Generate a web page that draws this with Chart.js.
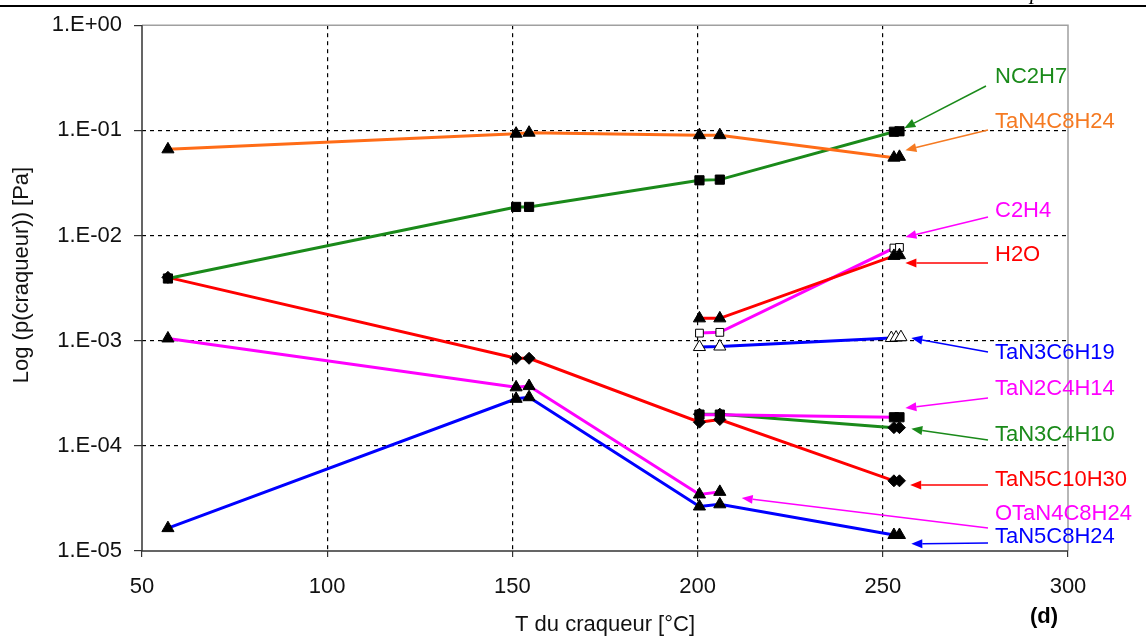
<!DOCTYPE html>
<html><head><meta charset="utf-8">
<script src="https://cdn.jsdelivr.net/npm/chart.js@4/dist/chart.umd.min.js"></script>
<style>html,body{margin:0;padding:0;background:#fff}#wrap{width:1146px;height:637px;position:relative}</style>
</head><body><div id="wrap"><canvas id="c" width="1146" height="637"></canvas></div>
<script>
// ---- data ----
const xTicks = [50, 100, 150, 200, 250, 300];
const yTicks = [1e-5, 1e-4, 1e-3, 1e-2, 1e-1, 1];
const T_full = [57, 151, 154.5, 200.5, 206, 253, 254.5];
const T_late = [200.5, 206, 253, 254.5];
const T_late3 = [200.5, 206, 252.3, 253.6, 254.9];
const T_otan = [57, 151, 154.5, 200.5, 206];

const NC2H7      = [0.0039, 0.0187, 0.0187, 0.0335, 0.034, 0.097, 0.098];
const TaN4C8H24  = [0.066, 0.093, 0.095, 0.090, 0.090, 0.055, 0.056];
const C2H4       = [0.00118, 0.0012, 0.0076, 0.0077];
const H2O        = [0.00163, 0.00163, 0.0064, 0.0065];
const TaN3C6H19  = [0.00087, 0.00088, 0.00106, 0.00107, 0.00108];
const TaN2C4H14  = [0.000198, 0.000198, 0.000187, 0.000187];
const TaN3C4H10  = [0.0002, 0.0002, 0.000149, 0.000149];
const TaN5C10H30 = [0.0040, 0.00068, 0.00068, 0.000168, 0.000178, 0.0000465, 0.0000465];
const OTaN4C8H24 = [0.00105, 0.00036, 0.00037, 0.0000345, 0.0000365];
const TaN5C8H24  = [0.0000165, 0.00028, 0.00029, 0.0000265, 0.0000278, 0.0000142, 0.0000142];

const labelNames = ['NC2H7','TaN4C8H24','C2H4','H2O','TaN3C6H19','TaN2C4H14','TaN3C4H10','TaN5C10H30','OTaN4C8H24','TaN5C8H24'];
const xTitle = 'T du craqueur [°C]';
const yTitle = 'Log (p(craqueur)) [Pa]';
const panelTag = '(d)';

const GREEN='#1a8a1a', ORANGE='#ff6c17', MAG='#ff00ff', RED='#ff0000', BLUE='#0000ff';

function pts(xs, ys){ return xs.map((x,i)=>({x:x, y:ys[i]})); }
function ds(xs, ys, color, style, open, r){
  return {data: pts(xs, ys), borderColor: color, borderWidth: 3, showLine: true, tension: 0,
    pointStyle: style, pointRadius: r, pointBackgroundColor: open ? '#ffffff' : '#000000',
    pointBorderColor: '#000000', pointBorderWidth: 1};
}

const datasets = [
  ds(T_full, TaN4C8H24, ORANGE, 'triangle', false, 7),
  ds(T_full, NC2H7, GREEN, 'rect', false, 6.5),
  ds(T_late, H2O, RED, 'triangle', false, 7),
  ds(T_late, C2H4, MAG, 'rect', true, 5.5),
  ds(T_late3, TaN3C6H19, BLUE, 'triangle', true, 7),
  ds(T_late, TaN2C4H14, MAG, 'rect', false, 6.5),
  ds(T_late, TaN3C4H10, GREEN, 'rectRot', false, 6),
  ds(T_full, TaN5C10H30, RED, 'rectRot', false, 6),
  ds(T_otan, OTaN4C8H24, MAG, 'triangle', false, 7),
  ds(T_full, TaN5C8H24, BLUE, 'triangle', false, 7)
];

// callout layout: text position (pixels) and arrow tip in data units
const callouts = [
  {c: GREEN,  ty: 77,  sx: 986, sy: 86,  tx: 255.8, tv: 0.105},
  {c: '#f57a22', ty: 122, sx: 988, sy: 130, tx: 256.1, tv: 0.0648},
  {c: MAG,    ty: 211, sx: 988, sy: 217, tx: 256.1, tv: 0.00966},
  {c: RED,    ty: 255, sx: 988, sy: 263, tx: 256.1, tv: 0.00547},
  {c: BLUE,   ty: 353, sx: 988, sy: 352, tx: 257.7, tv: 0.00106},
  {c: MAG,    ty: 389, sx: 988, sy: 398, tx: 256.1, tv: 0.000229},
  {c: GREEN,  ty: 435, sx: 988, sy: 440, tx: 257.7, tv: 0.000145},
  {c: RED,    ty: 480, sx: 988, sy: 485, tx: 257.4, tv: 0.0000424},
  {c: MAG,    ty: 514, sx: 988, sy: 528, tx: 211.9, tv: 0.0000319},
  {c: BLUE,   ty: 537, sx: 988, sy: 543, tx: 257.7, tv: 0.0000117}
];

const FONT = '"Liberation Sans", Arial, sans-serif';

const deco = {
  id: 'deco',
  beforeDatasetsDraw(chart){
    const {ctx, chartArea: a} = chart;
    ctx.save();
    ctx.strokeStyle = '#a0a0a0'; ctx.lineWidth = 1.5;
    ctx.beginPath(); ctx.moveTo(a.left, a.top); ctx.lineTo(a.right, a.top); ctx.lineTo(a.right, a.bottom); ctx.stroke();
    ctx.strokeStyle = '#333'; ctx.lineWidth = 1.5;
    ctx.beginPath(); ctx.moveTo(a.left, a.top); ctx.lineTo(a.left, a.bottom); ctx.lineTo(a.right, a.bottom); ctx.stroke();
    ctx.restore();
  },
  afterDraw(chart){
    const {ctx, chartArea: a} = chart;
    const xs = chart.scales.x, ys = chart.scales.y;
    ctx.save();
    // top rule of the page
    ctx.strokeStyle = '#000'; ctx.lineWidth = 2;
    ctx.beginPath(); ctx.moveTo(0, 6); ctx.lineTo(1146, 6); ctx.stroke();
    ctx.fillStyle = '#000'; ctx.font = 'italic 22px "Liberation Serif", serif'; ctx.textBaseline = 'alphabetic';
    ctx.fillText('p', 1030, -1);
    // axis titles
    ctx.fillStyle = '#111'; ctx.font = '22px ' + FONT; ctx.textAlign = 'center'; ctx.textBaseline = 'middle';
    ctx.fillText(xTitle, (a.left + a.right) / 2, 625);
    ctx.save(); ctx.translate(22, 275); ctx.rotate(-Math.PI / 2); ctx.fillText(yTitle, 0, 0); ctx.restore();
    callouts.forEach((k, i) => {
      const px = xs.getPixelForValue(k.tx), py = ys.getPixelForValue(k.tv);
      ctx.strokeStyle = k.c; ctx.fillStyle = k.c; ctx.lineWidth = 1.5;
      const ang = Math.atan2(py - k.sy, px - k.sx);
      const L = 11, W = 4.5;
      const bx = px - Math.cos(ang) * L, by = py - Math.sin(ang) * L;
      ctx.beginPath(); ctx.moveTo(k.sx, k.sy); ctx.lineTo(bx, by); ctx.stroke();
      ctx.beginPath(); ctx.moveTo(px, py);
      ctx.lineTo(bx + Math.sin(ang) * W, by - Math.cos(ang) * W);
      ctx.lineTo(bx - Math.sin(ang) * W, by + Math.cos(ang) * W);
      ctx.closePath(); ctx.fill();
      ctx.font = '22px ' + FONT; ctx.textBaseline = 'middle'; ctx.textAlign = 'left';
      ctx.fillText(labelNames[i], 995, k.ty);
    });
    ctx.fillStyle = '#000'; ctx.font = 'bold 22px ' + FONT; ctx.textAlign = 'left'; ctx.textBaseline = 'middle';
    ctx.fillText(panelTag, 1030, 617);
    ctx.restore();
  }
};

function edgeColor(min, max){
  return (c) => { const v = c.tick ? c.tick.value : null; return (v === min || v === max) ? 'rgba(0,0,0,0)' : '#000'; };
}

new Chart(document.getElementById('c'), {
  type: 'scatter',
  data: {datasets},
  plugins: [deco],
  options: {
    responsive: false, animation: false,
    layout: {padding: {left: 0, right: 78, top: 25, bottom: 0}},
    plugins: {legend: {display: false}, tooltip: {enabled: false}},
    scales: {
      x: {
        type: 'linear', min: 50, max: 300,
        afterFit: s => { s.height = 86; },
        afterBuildTicks: s => { s.ticks = xTicks.map(v => ({value: v})); },
        ticks: {autoSkip: false, maxRotation: 0, padding: 17, color: '#111', font: {family: FONT, size: 22}},
        grid: {color: edgeColor(50, 300), lineWidth: 1.2, tickLength: 6, tickColor: '#333', tickWidth: 1.2, drawTicks: true},
        border: {display: false, dash: [4, 4]}
      },
      y: {
        type: 'logarithmic', min: 1e-5, max: 1,
        afterFit: s => { s.width = 142; },
        afterBuildTicks: s => { s.ticks = yTicks.map(v => ({value: v})); },
        ticks: {autoSkip: false, padding: 12, color: '#111', font: {family: FONT, size: 22},
          callback: v => { const e = Math.round(Math.log10(v)); return '1.E' + (e < 0 ? '-' : '+') + String(Math.abs(e)).padStart(2, '0'); }},
        grid: {color: edgeColor(1e-5, 1), lineWidth: 1.2, tickLength: 8, tickColor: '#333', tickWidth: 1.2},
        border: {display: false, dash: [4, 4]}
      }
    }
  }
});
</script></body></html>
